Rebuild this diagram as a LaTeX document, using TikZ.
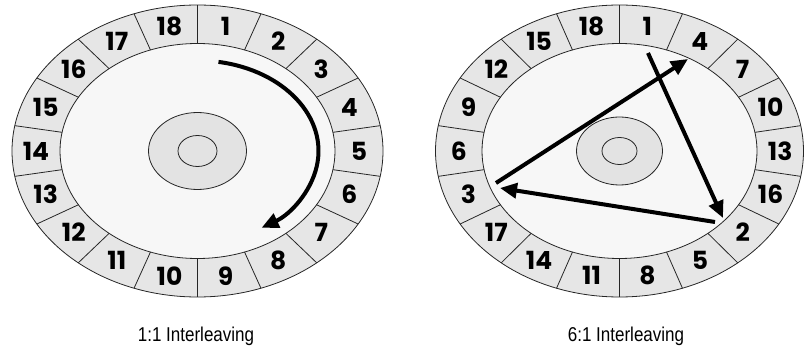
\documentclass[tikz,border=0pt]{standalone}
\usepackage{fontspec}
\usetikzlibrary{arrows.meta}
\newfontfamily\numfont{Poppins}
\newfontfamily\capfont[FakeStretch=0.85]{Liberation Sans}
\definecolor{ringc}{HTML}{E6E6E6}
\definecolor{diskc}{HTML}{F7F7F7}
\definecolor{hubc}{HTML}{E3E3E3}
\tikzset{
  thinline/.style={draw=black!85, line width=0.8pt},
  numlbl/.style={font=\numfont\bfseries\fontsize{25}{25}\selectfont, inner sep=0pt},
  caption/.style={font=\capfont\fontsize{20}{23}\selectfont, inner sep=0pt},
  arrowline/.style={line width=4pt, -{Triangle[length=17pt,width=15pt]}},
}
% #1 cx, #2 outer rx, #3 hub rx, #4 hub ry, #5 inner hub rx, #6 inner hub ry, #7 labels, #8 prefix
\newcommand\drawdisk[8]{%
  \draw[thinline, fill=ringc] (#1,151) ellipse [x radius=#2, y radius=146];
  \draw[thinline, fill=diskc] (#1,151) ellipse [x radius=137.5, y radius=107.5];
  \foreach \a in {10,30,...,350}
    \draw[thinline] ({#1+#2*cos(\a)},{151-146*sin(\a)}) -- ({#1+137.5*cos(\a)},{151-107.5*sin(\a)});
  \draw[thinline, fill=hubc] (#1,151) ellipse [x radius=#3, y radius=#4];
  \draw[thinline, fill=hubc] (#1,151) ellipse [x radius=#5, y radius=#6];
  \foreach \lab [count=\k] in {#7}
    \node[numlbl] (#8\k) at ({#1+(#2+137.5)/2*cos(100-20*\k)}, {151-126.75*sin(100-20*\k)}) {\lab};
}
\begin{document}
\begin{tikzpicture}[x=1pt,y=-1pt]
\useasboundingbox (0,0) rectangle (804,350);
\drawdisk{197.5}{185.5}{49}{38.5}{19.5}{15.5}{1,2,3,4,5,6,7,8,9,10,11,12,13,14,15,16,17,18}{L}
\drawdisk{619.5}{184}{43}{34}{17.5}{13.5}{1,4,7,10,13,16,2,5,8,11,14,17,3,6,9,12,15,18}{R}
% left rotation arrow
\coordinate (arcstart) at (218.5,61.9);
\draw[arrowline] (arcstart) arc[start angle=-80, end angle=58, x radius=121, y radius=90.5];
% right jumps
\coordinate (p3a) at (496,183);
\coordinate (p4) at (688,59);
\coordinate (p1) at (648,53);
\coordinate (p2) at (723,218);
\coordinate (p2b) at (715,222);
\coordinate (p3) at (500,188);
\draw[arrowline] (p1) -- (p2);
\draw[arrowline] (p2b) -- (p3);
\draw[arrowline] (p3a) -- (p4);
% captions
\node[caption, anchor=base] (capL) at (196,341) {1:1 Interleaving};
\node[caption, anchor=base] (capR) at (626,341) {6:1 Interleaving};
\end{tikzpicture}
\end{document}
